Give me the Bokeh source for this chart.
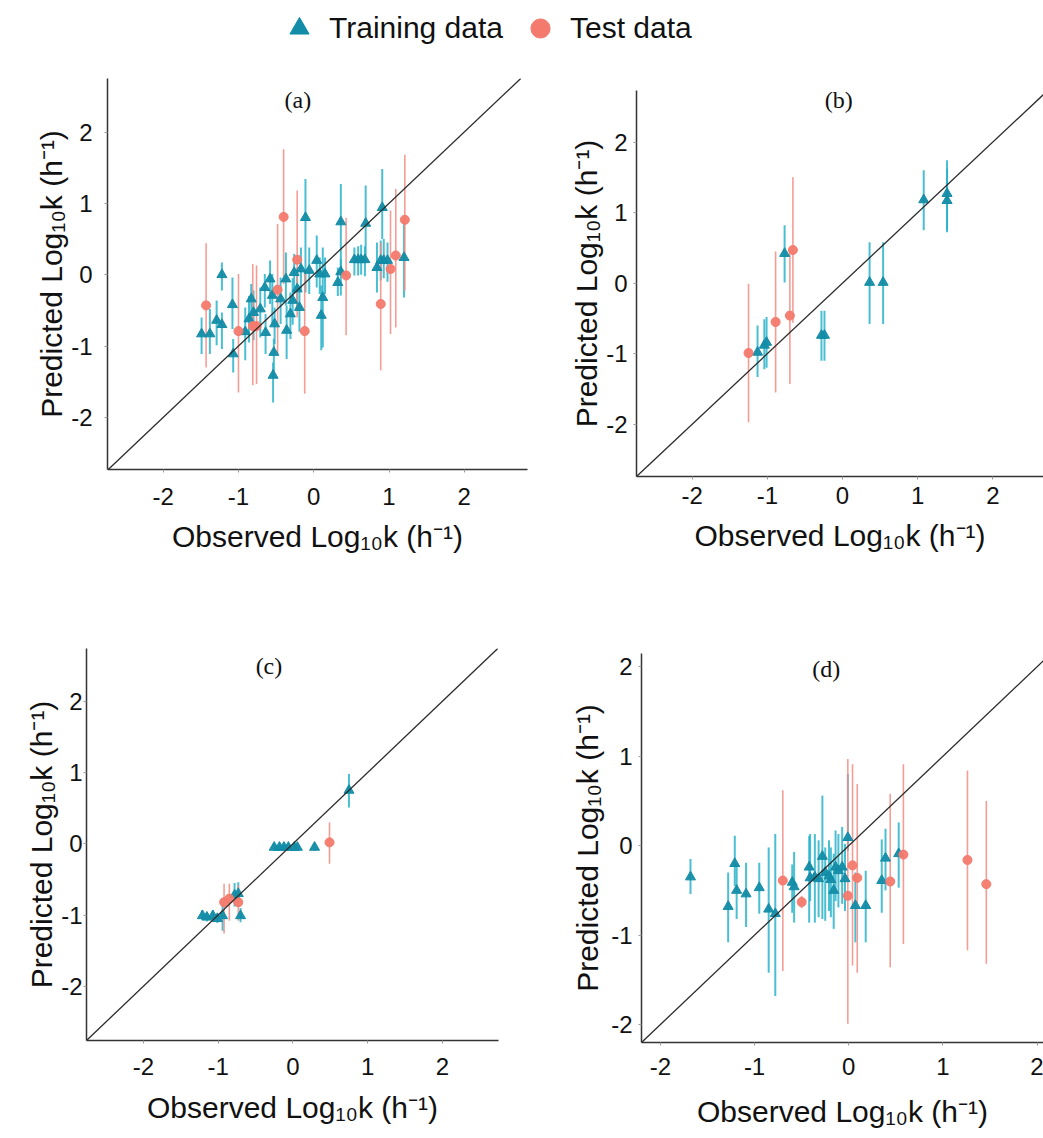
from bokeh.plotting import figure
from bokeh.layouts import column, row
from bokeh.models import FixedTicker, Slope, Label, Legend, LegendItem, ColumnDataSource
from bokeh.embed import file_html
from bokeh.resources import INLINE

TEAL = "#138CA7"
TEAL_BAR = "#2AB3CA"
RED = "#F47A6E"
RED_BAR = "#F28C82"
TICKS = [-2, -1, 0, 1, 2]
X_LABEL = "Observed Log\u2081\u2080k (h\u207b\u00b9)"
Y_LABEL = "Predicted Log\u2081\u2080k (h\u207b\u00b9)"
LEGEND_LABELS = ["Training data", "Test data"]

# ---------------- panel (a) ----------------
a_train_x = [-1.49, -1.38, -1.29, -1.22, -1.22, -1.08, -1.07, -0.91, -0.86, -0.83, -0.80, -0.71, -0.65,
             -0.64, -0.58, -0.55, -0.53, -0.54, -0.52, -0.44, -0.37, -0.36, -0.31, -0.28, -0.26, -0.22,
             -0.19, -0.17, -0.11, -0.06, 0.04, 0.08, 0.10, 0.12, 0.15, 0.32, 0.36, 0.36, 0.54, 0.59,
             0.63, 0.68, 0.69, 0.84, 0.89, 0.93, 0.98, 0.91, 1.20]
a_train_y = [-0.83, -0.83, -0.64, 0.00, -0.70, -0.42, -1.11, -0.80, -0.62, -0.34, -0.53, -0.48, -0.18,
             -0.81, -0.06, -0.29, -1.09, -1.41, -0.69, -0.34, -0.06, -0.78, -0.55, -0.36, 0.03, -0.20,
             -0.46, 0.08, 0.80, 0.06, 0.20, 0.01, -0.57, -0.32, 0.01, -0.11, 0.74, 0.04, 0.21, 0.21,
             0.21, 0.21, 0.72, 0.10, 0.20, 0.20, 0.20, 0.94, 0.24]
a_train_lo = [-1.11, -1.11, -0.99, -0.22, -1.04, -0.76, -1.37, -1.20, -0.95, -0.74, -0.92, -0.88, -0.46,
              -1.11, -0.41, -0.69, -1.37, -1.79, -0.97, -0.69, -0.43, -1.18, -0.90, -0.70, -0.27, -0.50,
              -0.80, -0.22, -0.25, -0.27, -0.18, -0.27, -1.06, -1.02, -0.27, -0.30, 0.08, -0.29, -0.01,
              -0.01, 0.00, -0.02, 0.27, -0.25, -0.08, -0.05, -0.10, 0.50, -0.32]
a_train_hi = [-0.60, -0.48, -0.36, 0.17, -0.53, -0.04, -0.90, -0.46, -0.30, -0.13, -0.22, -0.18, 0.01,
              -0.55, 0.20, 0.01, -0.90, -1.23, -0.46, -0.04, 0.31, -0.43, -0.25, -0.05, 0.29, 0.10,
              -0.15, 0.38, 1.34, 0.38, 0.55, 0.24, -0.15, 0.38, 0.24, 0.10, 1.27, 0.22, 0.38, 0.40,
              0.42, 0.40, 1.25, 0.45, 0.48, 0.50, 0.45, 1.48, 0.80]
a_test_x = [-1.43, -1.00, -0.81, -0.76, -0.48, -0.40, -0.22, -0.12, 0.43, 0.89, 1.02, 1.09, 1.21]
a_test_y = [-0.43, -0.79, -0.72, -0.72, -0.21, 0.81, 0.21, -0.79, -0.01, -0.41, 0.08, 0.27, 0.77]
a_test_lo = [-1.30, -1.65, -1.55, -1.53, -1.11, -0.13, -0.60, -1.67, -0.85, -1.34, -0.83, -0.74, -0.22]
a_test_hi = [0.44, 0.01, 0.15, 0.13, 0.71, 1.76, 1.18, 0.06, 0.80, 0.45, 0.90, 1.20, 1.68]

# ---------------- panel (b) ----------------
b_train_x = [-1.13, -1.04, -1.01, -0.77, -0.28, -0.24, 0.36, 0.54, 1.08, 1.39, 1.39]
b_train_y = [-0.98, -0.88, -0.84, 0.42, -0.74, -0.74, 0.01, 0.01, 1.18, 1.27, 1.17]
b_train_lo = [-1.33, -1.22, -1.20, 0.01, -1.10, -1.10, -0.58, -0.58, 0.75, 0.75, 0.72]
b_train_hi = [-0.60, -0.51, -0.48, 0.82, -0.39, -0.39, 0.58, 0.58, 1.60, 1.74, 1.62]
b_test_x = [-1.25, -0.89, -0.70, -0.66]
b_test_y = [-0.99, -0.55, -0.46, 0.47]
b_test_lo = [-1.97, -1.55, -1.43, -0.56]
b_test_hi = [-0.01, 0.45, 0.51, 1.50]

# ---------------- panel (c) ----------------
c_train_x = [-1.21, -1.15, -1.07, -1.01, -0.94, -0.78, -0.73, -0.70, -0.25, -0.18, -0.12, -0.06,
             0.02, 0.06, 0.29, 0.75]
c_train_y = [-1.01, -1.03, -1.01, -1.05, -1.01, -0.72, -0.70, -1.01, -0.05, -0.05, -0.05, -0.05,
             -0.05, -0.05, -0.05, 0.75]
c_train_lo = [-1.07, -1.09, -1.07, -1.11, -1.22, -0.88, -0.87, -1.10, -0.10, -0.10, -0.10, -0.10,
              -0.10, -0.10, -0.10, 0.51]
c_train_hi = [-0.93, -0.96, -0.93, -0.98, -0.80, -0.55, -0.54, -0.90, 0.00, 0.00, 0.00, 0.00,
              0.00, 0.00, 0.00, 0.98]
c_test_x = [0.49, -0.92, -0.85, -0.73]
c_test_y = [0.02, -0.82, -0.77, -0.82]
c_test_lo = [-0.28, -1.26, -1.08, -1.08]
c_test_hi = [0.30, -0.56, -0.56, -0.58]

# ---------------- panel (d) ----------------
d_train_x = [-1.68, -1.28, -1.21, -1.19, -1.09, -0.95, -0.85, -0.78, -0.60, -0.58, -0.42, -0.41,
             -0.36, -0.32, -0.28, -0.25, -0.21, -0.19, -0.16, -0.14, -0.11, -0.07, -0.04, -0.01,
             0.07, 0.18, 0.35, 0.39, 0.53]
d_train_y = [-0.35, -0.68, -0.20, -0.50, -0.54, -0.47, -0.71, -0.76, -0.41, -0.46, -0.24, -0.36,
             -0.35, -0.37, -0.12, -0.30, -0.34, -0.38, -0.50, -0.24, -0.28, -0.24, -0.37, 0.09,
             -0.67, -0.67, -0.39, -0.14, -0.09]
d_train_lo = [-0.54, -1.08, -0.45, -0.82, -0.91, -0.76, -1.42, -1.68, -0.75, -0.86, -0.86, -0.62,
              -0.86, -0.80, -0.82, -0.84, -0.73, -0.80, -0.93, -0.62, -0.69, -0.65, -0.73, -0.06,
              -1.08, -1.08, -0.75, -0.50, -0.47]
d_train_hi = [-0.15, -0.30, 0.11, -0.21, -0.19, -0.19, -0.02, 0.13, -0.21, -0.07, 0.11, 0.13,
              0.13, 0.06, 0.56, -0.02, 0.06, -0.02, -0.09, 0.17, 0.13, 0.21, 0.02, 0.80,
              -0.30, -0.28, 0.07, 0.19, 0.26]
d_test_x = [-0.70, -0.50, -0.01, 0.04, 0.09, 0.44, 0.58, 1.26, 1.46]
d_test_y = [-0.39, -0.63, -0.56, -0.22, -0.36, -0.40, -0.10, -0.16, -0.43]
d_test_lo = [-1.40, -0.70, -1.99, -1.34, -1.42, -1.36, -1.10, -1.17, -1.32]
d_test_hi = [0.62, -0.56, 0.97, 0.91, 0.69, 0.58, 0.91, 0.84, 0.50]


def make_panel(tag, tag_xy, tx, ty, tlo, thi, sx, sy, slo, shi, xr, yr,
               width, height, left, right, top, bottom,
               ylab_std, ytitle_std, xlab_std, xtitle_std):
    p = figure(width=width, height=height, x_range=xr, y_range=yr,
               toolbar_location=None, output_backend="svg", title_location=None,
               min_border_left=left, min_border_right=right,
               min_border_top=top, min_border_bottom=bottom,
               x_axis_label=X_LABEL, y_axis_label=Y_LABEL)
    p.grid.visible = False
    p.outline_line_color = None
    for ax in (p.xaxis[0], p.yaxis[0]):
        ax.ticker = FixedTicker(ticks=TICKS)
        ax.major_label_overrides = {t: str(t) for t in TICKS}
        ax.major_label_text_font = "Liberation Sans"
        ax.major_label_text_font_size = "24px"
        ax.major_label_text_color = "#111111"
        ax.axis_label_text_font = "Liberation Sans"
        ax.axis_label_text_font_size = "30px"
        ax.axis_label_text_font_style = "normal"
        ax.axis_label_text_color = "#111111"
        ax.axis_line_color = "#333333"
        ax.axis_line_width = 1.5
        ax.major_tick_in = 0
        ax.major_tick_out = 3
        ax.major_tick_line_color = "#999999"
        ax.minor_tick_line_color = None
    p.yaxis[0].major_label_standoff = ylab_std
    p.yaxis[0].axis_label_standoff = ytitle_std
    p.xaxis[0].major_label_standoff = xlab_std
    p.xaxis[0].axis_label_standoff = xtitle_std

    p.add_layout(Slope(gradient=1, y_intercept=0, line_color="#2b2b2b", line_width=1.3))

    train = ColumnDataSource(dict(x=tx, y=ty, lo=tlo, hi=thi))
    test = ColumnDataSource(dict(x=sx, y=sy, lo=slo, hi=shi))
    p.segment(x0="x", x1="x", y0="lo", y1="hi", source=train,
              line_color=TEAL_BAR, line_width=2, line_alpha=0.85)
    p.segment(x0="x", x1="x", y0="lo", y1="hi", source=test,
              line_color=RED_BAR, line_width=1.6, line_alpha=0.85)
    p.scatter(x="x", y="y", source=train, marker="triangle", size=10,
              fill_color=TEAL, line_color=TEAL, fill_alpha=0.95)
    p.scatter(x="x", y="y", source=test, marker="circle", size=9,
              fill_color=RED, line_color=RED, fill_alpha=0.95)
    p.add_layout(Label(x=tag_xy[0], y=tag_xy[1], text=tag, text_align="center",
                       text_baseline="middle", text_font="Liberation Serif",
                       text_font_size="24px", text_color="#111111"))
    return p


pa = make_panel("(a)", (-0.21, 2.45), a_train_x, a_train_y, a_train_lo, a_train_hi,
                a_test_x, a_test_y, a_test_lo, a_test_hi,
                (-2.74, 2.84), (-2.73, 2.75), 540, 544, 107, 13, 22, 131, 12, 0, 15, 12)
pb = make_panel("(b)", (-0.05, 2.59), b_train_x, b_train_y, b_train_lo, b_train_hi,
                b_test_x, b_test_y, b_test_lo, b_test_hi,
                (-2.74, 2.673), (-2.74, 2.73), 503, 544, 96, 0, 34, 124, 6, 0, 7, 12)
pc = make_panel("(c)", (-0.32, 2.5), c_train_x, c_train_y, c_train_lo, c_train_hi,
                c_test_x, c_test_y, c_test_lo, c_test_hi,
                (-2.76, 2.75), (-2.76, 2.74), 540, 538, 86, 42, 48, 98, 1, 0, 14, 13)
pd_ = make_panel("(d)", (-0.24, 1.98), d_train_x, d_train_y, d_train_lo, d_train_hi,
                 d_test_x, d_test_y, d_test_lo, d_test_hi,
                 (-2.2, 2.067), (-2.2, 2.148), 503, 538, 101, 0, 53, 96, 6, 4, 12, 17)

# ---------------- legend strip ----------------
leg = figure(width=1043, height=56, x_range=(0, 1), y_range=(0, 1), toolbar_location=None,
             output_backend="svg", min_border=0, x_axis_location=None, y_axis_location=None,
             title_location=None)
leg.grid.visible = False
leg.outline_line_color = None
# key glyphs sit outside the visible range; only the legend shows them
r1 = leg.scatter(x=[5], y=[5], marker="triangle", fill_color=TEAL, line_color=TEAL)
r2 = leg.scatter(x=[5], y=[5], marker="circle", fill_color=RED, line_color=RED)
legend = Legend(items=[LegendItem(label=LEGEND_LABELS[0], renderers=[r1]),
                       LegendItem(label=LEGEND_LABELS[1], renderers=[r2])],
                orientation="horizontal", location=(275, 4), glyph_width=48, glyph_height=48,
                label_standoff=6, spacing=13, padding=0, margin=0, border_line_color=None,
                background_fill_alpha=0, label_text_font="Liberation Sans",
                label_text_font_size="30px", label_text_color="#111111")
leg.add_layout(legend)

layout = column(leg, row(column(pa), column(pb)), row(column(pc), column(pd_)))
open("out.html", "w").write(file_html(layout, INLINE))
